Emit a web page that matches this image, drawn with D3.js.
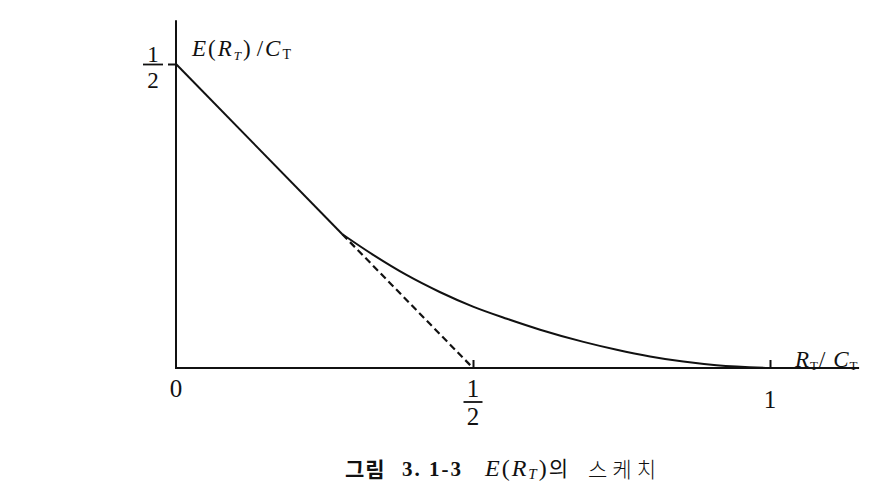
<!DOCTYPE html>
<html>
<head>
<meta charset="utf-8">
<script src="https://cdn.jsdelivr.net/npm/d3@7/dist/d3.min.js"></script>
<style>
  html, body { margin: 0; padding: 0; background: #fff; }
  svg { display: block; }
  .serif { font-family: "Liberation Serif", "DejaVu Serif", serif; fill: #111; }
  .kr { font-family: "Noto Sans CJK KR", sans-serif; fill: #111; }
</style>
</head>
<body>
<svg id="chart" width="877" height="489"></svg>
<script>
// ---- data ----
const lineX = [0, 0.28];           // straight part E/C = 1/2 - R/C
const lineY = [0.5, 0.22];
const curveX = [0.28, 0.332, 0.388, 0.444, 0.5, 0.557, 0.613, 0.686, 0.742, 0.798, 0.854, 0.91, 1];
const curveY = [0.22, 0.186, 0.153, 0.125, 0.101, 0.081, 0.063, 0.043, 0.030, 0.019, 0.0105, 0.0045, 0];
const dashX = [0.28, 0.5];         // continuation of the straight line
const dashY = [0.22, 0];
const xTickValues = [0.5, 1];
const yTickValues = [0.5];

const svg = d3.select("#chart");
const x = d3.scaleLinear().domain([0, 1]).range([176, 770]);
const y = d3.scaleLinear().domain([0, 0.5]).range([368, 64]);

const toPts = (xs, ys) => xs.map((v, i) => [v, ys[i]]);
const lineGen = d3.line().x(d => x(d[0])).y(d => y(d[1]));
const curveGen = d3.line().x(d => x(d[0])).y(d => y(d[1])).curve(d3.curveMonotoneX);

// axes lines
svg.append("line").attr("x1", x(0)).attr("x2", x(1.15)).attr("y1", y(0)).attr("y2", y(0))
  .attr("stroke", "#111").attr("stroke-width", 2);
svg.append("line").attr("x1", x(0)).attr("x2", x(0)).attr("y1", y(0) + 1).attr("y2", y(0.572))
  .attr("stroke", "#111").attr("stroke-width", 2);

// x ticks (upward)
const xAxis = d3.axisBottom(x).tickValues(xTickValues).tickSizeInner(-8).tickSizeOuter(0).tickFormat("");
const gx = svg.append("g").attr("transform", `translate(0,${y(0)})`).call(xAxis);
gx.select(".domain").remove();
gx.selectAll(".tick line").attr("stroke", "#111").attr("stroke-width", 2);

// y tick (left)
const yAxis = d3.axisLeft(y).tickValues(yTickValues).tickSizeInner(8).tickSizeOuter(0).tickFormat("");
const gy = svg.append("g").attr("transform", `translate(${x(0)},0)`).call(yAxis);
gy.select(".domain").remove();
gy.selectAll(".tick line").attr("stroke", "#111").attr("stroke-width", 2);

// curves
svg.append("path").datum(toPts(lineX, lineY)).attr("d", lineGen)
  .attr("fill", "none").attr("stroke", "#111").attr("stroke-width", 2);
svg.append("path").datum(toPts(curveX, curveY)).attr("d", curveGen)
  .attr("fill", "none").attr("stroke", "#111").attr("stroke-width", 2);
svg.append("path").datum(toPts(dashX, dashY)).attr("d", lineGen)
  .attr("fill", "none").attr("stroke", "#111").attr("stroke-width", 2.2)
  .attr("stroke-dasharray", "7,4");

// fraction helper
function fraction(cx, baseY, num, den, size, barW, barOff, denOff) {
  const g = svg.append("g");
  g.append("text").attr("class", "serif").attr("x", cx).attr("y", baseY)
    .attr("text-anchor", "middle").attr("font-size", size).text(num);
  g.append("line").attr("x1", cx - barW / 2).attr("x2", cx + barW / 2)
    .attr("y1", baseY + barOff).attr("y2", baseY + barOff).attr("stroke", "#111").attr("stroke-width", 1.8);
  g.append("text").attr("class", "serif").attr("x", cx).attr("y", baseY + denOff)
    .attr("text-anchor", "middle").attr("font-size", size).text(den);
}

// x tick labels
svg.append("text").attr("class", "serif").attr("x", x(0)).attr("y", 397)
  .attr("text-anchor", "middle").attr("font-size", 25).text("0");
fraction(x(0.5), 397, "1", "2", 25, 19, 5, 28);
svg.append("text").attr("class", "serif").attr("x", x(1)).attr("y", 408)
  .attr("text-anchor", "middle").attr("font-size", 25).text("1");

// y tick label
fraction(153, 62, "1", "2", 23, 20, 2.5, 26);

// y axis title  E(R_T)/C_T
const yt = svg.append("text").attr("class", "serif").attr("x", 192).attr("y", 56)
  .attr("font-size", 23).attr("letter-spacing", 2);
yt.append("tspan").attr("font-style", "italic").text("E");
yt.append("tspan").text("(");
yt.append("tspan").attr("font-style", "italic").text("R");
yt.append("tspan").attr("font-size", 13).attr("dy", 4).attr("font-style", "italic").text("T");
yt.append("tspan").attr("dy", -4).text(")");
yt.append("tspan").attr("dx", 4).text("/");
yt.append("tspan").attr("font-style", "italic").text("C");
yt.append("tspan").attr("font-size", 14).attr("dy", 3).text("T");

// x axis title  R_T/ C_T
const xt = svg.append("text").attr("class", "serif").attr("x", 795).attr("y", 367)
  .attr("font-size", 23).attr("letter-spacing", 1);
xt.append("tspan").attr("font-style", "italic").text("R");
xt.append("tspan").attr("font-size", 13).attr("dy", 3).text("T");
xt.append("tspan").attr("dy", -3).text("/ ");
xt.append("tspan").attr("font-style", "italic").text("C");
xt.append("tspan").attr("font-size", 13).attr("dy", 3).text("T");

// caption
const capY = 476;
svg.append("text").attr("class", "kr").attr("x", 345).attr("y", capY + 1)
  .attr("font-size", 21).attr("font-weight", "bold").attr("letter-spacing", 1).text("그림");
svg.append("text").attr("class", "serif").attr("x", 402).attr("y", capY)
  .attr("font-size", 21).attr("font-weight", "bold").attr("letter-spacing", 2).text("3. 1-3");
const capE = svg.append("text").attr("class", "serif").attr("x", 485).attr("y", capY)
  .attr("font-size", 24).attr("letter-spacing", 2);
capE.append("tspan").attr("font-style", "italic").text("E");
capE.append("tspan").text("(");
capE.append("tspan").attr("font-style", "italic").text("R");
capE.append("tspan").attr("font-style", "italic").attr("font-size", 15).attr("dy", 3).text("T");
capE.append("tspan").attr("dy", -3).text(")");
capE.append("tspan").attr("class", "kr").attr("font-size", 21).attr("letter-spacing", 0).text("의");
svg.append("text").attr("class", "kr").attr("x", 588).attr("y", capY + 1)
  .attr("font-size", 21).attr("font-weight", 300).attr("letter-spacing", 5).text("스케치");
</script>
</body>
</html>
